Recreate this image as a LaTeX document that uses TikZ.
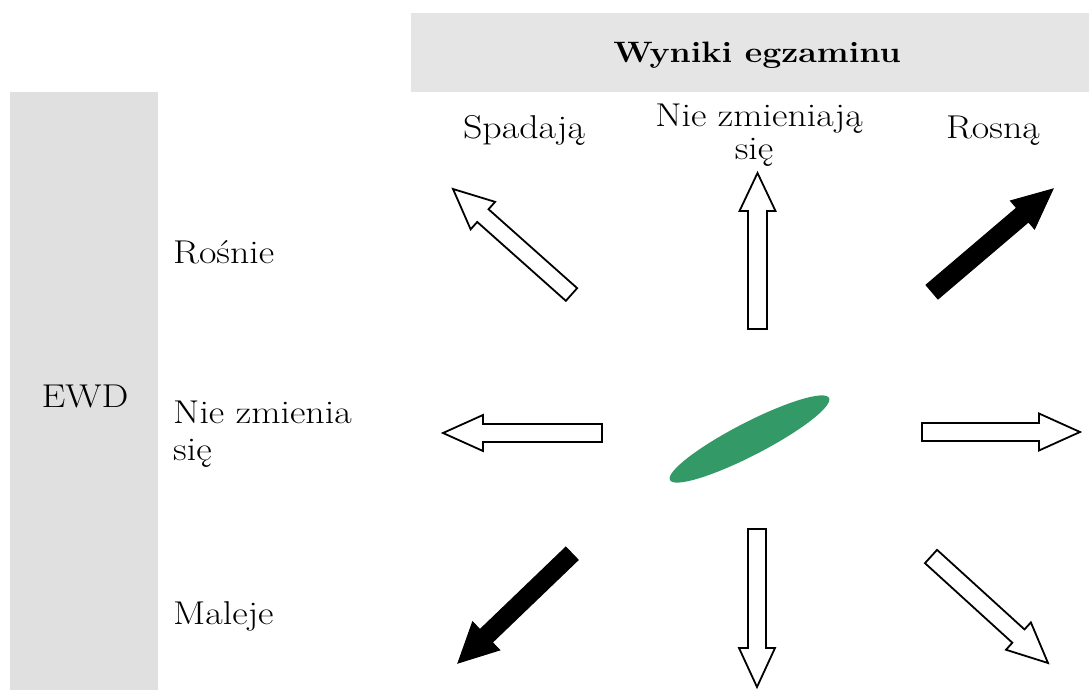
\documentclass[tikz,border=0pt]{standalone}
\usepackage{fontspec}
\setmainfont{Latin Modern Roman}[FakeStretch=1.15]
\usetikzlibrary{calc,shapes.geometric}
\definecolor{topgray}{RGB}{229,229,229}
\definecolor{leftgray}{RGB}{224,224,224}
\definecolor{blobgreen}{RGB}{51,153,102}
\newcommand\blockarr[6]{%
  \path #2 coordinate (bT) #3 coordinate (bP);
  \path ($(bP)!#6!(bT)$) coordinate (bN);
  \draw[#1] ($(bT)!#4!90:(bP)$) -- ($(bN)!#4!-90:(bT)$) -- ($(bN)!#5!-90:(bT)$) -- (bP)
    -- ($(bN)!#5!90:(bT)$) -- ($(bN)!#4!90:(bT)$) -- ($(bT)!#4!-90:(bP)$) -- cycle;}
\tikzset{
  whitearr/.style={draw=black,fill=white,line width=1.8pt,line join=miter},
  blackarr/.style={draw=black,fill=black,line width=1pt,line join=miter},
  lbl/.style={inner sep=0pt,anchor=base,font=\fontsize{33}{39}\selectfont},
  lblleft/.style={lbl,anchor=base west},
}
\begin{document}
\begin{tikzpicture}[x=1pt,y=-1pt]
\useasboundingbox (0,0) rectangle (1089,690);
% header boxes
\fill[topgray] (411,13) rectangle (1089,92);
\fill[leftgray] (10,92) rectangle (158,690);
\node[lbl,font=\fontsize{29.5}{35}\selectfont\bfseries] (title) at (757,63) {Wyniki egzaminu};
\node[lbl] (ewd) at (85,407) {EWD};
% column labels
\node[lbl] (spad) at (524,139) {Spadają};
\node[lbl] (nzA) at (759,127) {Nie zmieniają};
\node[lbl] (nzB) at (754,160) {się};
\node[lbl] (rosna) at (993,139) {Rosną};
% row labels
\node[lblleft] (rosnie) at (173,263) {Rośnie};
\node[lblleft] (nzrA) at (173,423) {Nie zmienia};
\node[lblleft] (nzrB) at (173,460) {się};
\node[lblleft] (maleje) at (173,624) {Maleje};
% centre blob
\node[ellipse,fill=blobgreen,inner sep=0pt,minimum width=179pt,minimum height=33pt,rotate=27.3] (blob) at (749.5,439) {};
% arrows
\blockarr{whitearr}{(571.5,294.5)}{(453,189)}{8.5pt}{18.4pt}{40pt}
\blockarr{whitearr}{(757.5,329)}{(757.5,173)}{9.5pt}{18pt}{38pt}
\blockarr{blackarr}{(932,292)}{(1053,189)}{9.2pt}{18.5pt}{40pt}
\blockarr{whitearr}{(602,433)}{(443,433)}{9pt}{18pt}{40pt}
\blockarr{whitearr}{(922,432)}{(1080,432)}{9pt}{18.5pt}{41pt}
\blockarr{blackarr}{(572,553.5)}{(458,663)}{8.9pt}{19.5pt}{39pt}
\blockarr{whitearr}{(757,529)}{(757,687)}{9pt}{18pt}{39pt}
\blockarr{whitearr}{(931,556.5)}{(1048,663)}{9pt}{18.5pt}{40pt}
\end{tikzpicture}
\end{document}
